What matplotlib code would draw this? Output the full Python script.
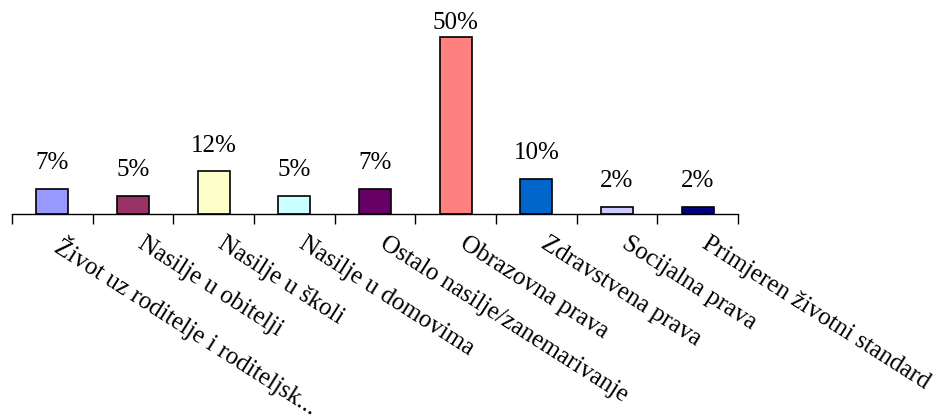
import matplotlib.pyplot as plt
import numpy as np

categories = [
    "Život uz roditelje i roditeljsk...",
    "Nasilje u obitelji",
    "Nasilje u školi",
    "Nasilje u domovima",
    "Ostalo nasilje/zanemarivanje",
    "Obrazovna prava",
    "Zdravstvena prava",
    "Socijalna prava",
    "Primjeren životni standard",
]
values = [0.07, 0.05, 0.12, 0.05, 0.07, 0.50, 0.10, 0.02, 0.02]
colors = ["#9999FF", "#993366", "#FFFFCC", "#CCFFFF", "#660066",
          "#FF8080", "#0066CC", "#CCCCFF", "#000080"]

plt.rcParams["font.family"] = ["Liberation Serif", "DejaVu Serif"]

fig = plt.figure(figsize=(9.47, 4.19), dpi=100)
W, H = 947, 419
ax = fig.add_axes([12 / W, 1 - 214 / H, (738 - 12) / W, 195 / H])

x = np.arange(len(categories))
ax.bar(x, values, width=0.4, color=colors, edgecolor="black", linewidth=1.2)

# value labels sit ~20px above bars, clamped near the top of the plot area
for xi, v in zip(x, values):
    ty = min(v + 0.056, 0.523)
    ax.text(xi, ty, f"{round(v * 100)}%", ha="center", va="baseline",
            fontsize=18)

ax.set_xlim(-0.5, len(categories) - 0.5)
ax.set_ylim(0, 0.55)

for s in ["top", "right", "left"]:
    ax.spines[s].set_visible(False)
ax.spines["bottom"].set_linewidth(1.0)
ax.set_yticks([])

ax.set_xticks(np.arange(-0.5, len(categories)), minor=False)
ax.set_xticklabels([])
ax.tick_params(axis="x", direction="out", length=7, width=1)

for xi, lab in zip(x, categories):
    ax.annotate(lab, (xi, 0), xytext=(9, -13), textcoords="offset points",
                ha="left", va="top", rotation=-32.5, rotation_mode="anchor",
                fontsize=18, annotation_clip=False)

fig.savefig("out.png", dpi=100)
